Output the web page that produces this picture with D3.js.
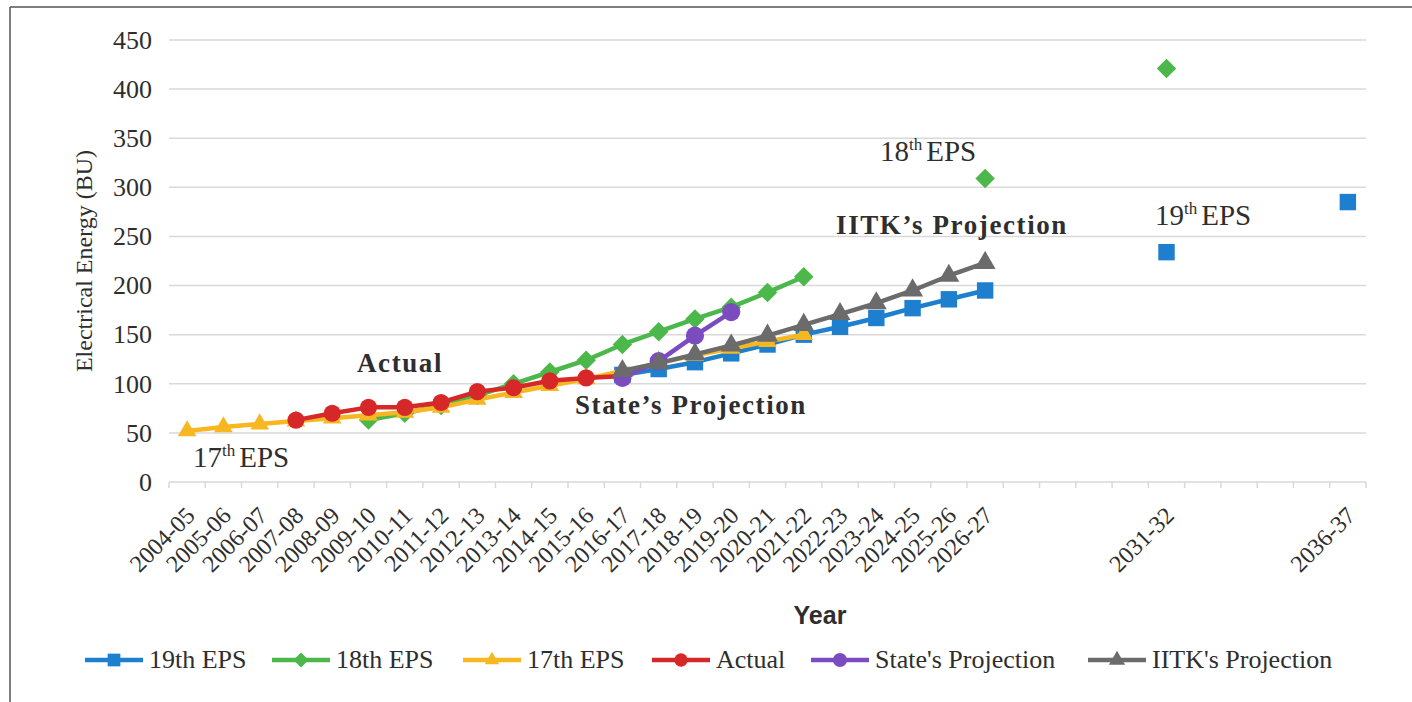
<!DOCTYPE html>
<html>
<head>
<meta charset="utf-8">
<script src="https://cdn.jsdelivr.net/npm/d3@7"></script>
<style>
  body { margin: 0; background: #fff; }
  svg { display: block; }
</style>
</head>
<body>
<svg id="chart"></svg>
<script>
// x categories (every year on the axis, only some get a label)
var years = ["2004-05","2005-06","2006-07","2007-08","2008-09","2009-10","2010-11","2011-12",
  "2012-13","2013-14","2014-15","2015-16","2016-17","2017-18","2018-19","2019-20","2020-21",
  "2021-22","2022-23","2023-24","2024-25","2025-26","2026-27","2027-28","2028-29","2029-30",
  "2030-31","2031-32","2032-33","2033-34","2034-35","2035-36","2036-37"]
var yearLabels = ["2004-05","2005-06","2006-07","2007-08","2008-09","2009-10","2010-11","2011-12",
  "2012-13","2013-14","2014-15","2015-16","2016-17","2017-18","2018-19","2019-20","2020-21",
  "2021-22","2022-23","2023-24","2024-25","2025-26","2026-27","2031-32","2036-37"]
var yTicks = [0, 50, 100, 150, 200, 250, 300, 350, 400, 450]

// series
var eps19Years = ["2016-17","2017-18","2018-19","2019-20","2020-21","2021-22","2022-23","2023-24","2024-25","2025-26","2026-27","2031-32","2036-37"]
var eps19Values = [109, 115, 122, 131, 140, 150, 158, 167, 177, 186, 195, 234, 285]

var eps18Years = ["2009-10","2010-11","2011-12","2012-13","2013-14","2014-15","2015-16","2016-17","2017-18","2018-19","2019-20","2020-21","2021-22","2026-27","2031-32"]
var eps18Values = [63, 70, 78, 88, 100, 112, 124, 140, 153, 166, 178, 193, 209, 309, 421]

var eps17Years = ["2004-05","2005-06","2006-07","2007-08","2008-09","2009-10","2010-11","2011-12","2012-13","2013-14","2014-15","2015-16","2016-17","2017-18","2018-19","2019-20","2020-21","2021-22"]
var eps17Values = [52, 56, 59, 62, 65, 68, 71, 76, 84, 91, 98, 105, 113, 121, 129, 136, 143, 150]

var actualYears = ["2007-08","2008-09","2009-10","2010-11","2011-12","2012-13","2013-14","2014-15","2015-16","2016-17"]
var actualValues = [63, 70, 76, 76, 81, 92, 96, 103, 106, 108]

var stateYears = ["2016-17","2017-18","2018-19","2019-20"]
var stateValues = [106, 123, 149, 173]

var iitkYears = ["2016-17","2017-18","2018-19","2019-20","2020-21","2021-22","2022-23","2023-24","2024-25","2025-26","2026-27"]
var iitkValues = [113, 121, 130, 139, 149, 160, 171, 182, 195, 210, 223]

var seriesNames = ["19th EPS", "18th EPS", "17th EPS", "Actual", "State's Projection", "IITK's Projection"]
var seriesColors = ["#1f7fcf", "#4cb84c", "#f7b720", "#d62828", "#7a4cbf", "#6b6b6b"]
var seriesSymbols = [d3.symbolSquare, d3.symbolSquare, d3.symbolTriangle, d3.symbolCircle, d3.symbolCircle, d3.symbolTriangle]
var seriesRotate = [0, 45, 0, 0, 0, 0]
var seriesSizes = [270, 190, 150, 230, 260, 190]

var allSeries = [
  [eps19Years, eps19Values],
  [eps18Years, eps18Values],
  [eps17Years, eps17Values],
  [actualYears, actualValues],
  [stateYears, stateValues],
  [iitkYears, iitkValues]
]

var dimensions = {
  width: 1412,
  height: 702,
  margin: { top: 40, bottom: 220, left: 169, right: 46 }
}

var svg = d3.select("#chart")
  .attr("width", dimensions.width)
  .attr("height", dimensions.height)

var serif = "'Liberation Serif', 'Times New Roman', serif"
var ink = "#2e2e2e"

// frame lines (top + left only)
svg.append("line").attr("x1", 10).attr("x2", dimensions.width).attr("y1", 7).attr("y2", 7)
  .attr("stroke", "#555").attr("stroke-width", 1.5)
svg.append("line").attr("x1", 10).attr("x2", 10).attr("y1", 7).attr("y2", dimensions.height)
  .attr("stroke", "#555").attr("stroke-width", 1.5)

var xScale = d3.scaleBand()
  .domain(years)
  .range([dimensions.margin.left, dimensions.width - dimensions.margin.right])
  .padding(0)

var yScale = d3.scaleLinear()
  .domain([0, 450])
  .range([dimensions.height - dimensions.margin.bottom, dimensions.margin.top])

var cx = d => xScale(d) + xScale.bandwidth() / 2

// gridlines
svg.append("g")
  .selectAll("line")
  .data(yTicks.slice(1))
  .enter().append("line")
  .attr("x1", dimensions.margin.left)
  .attr("x2", dimensions.width - dimensions.margin.right)
  .attr("y1", d => yScale(d))
  .attr("y2", d => yScale(d))
  .attr("stroke", "#d9d9d9")
  .attr("stroke-width", 1.5)

// y axis labels
var yAxis = svg.append("g")
  .attr("transform", `translate(${dimensions.margin.left},0)`)
  .call(d3.axisLeft(yScale).tickValues(yTicks).tickSize(0).tickPadding(17))
yAxis.select(".domain").remove()
yAxis.selectAll("text")
  .attr("font-family", serif)
  .attr("font-size", 26)
  .attr("fill", ink)

// x axis (ticks between categories)
var baseY = yScale(0)
svg.append("line")
  .attr("x1", dimensions.margin.left).attr("x2", dimensions.width - dimensions.margin.right)
  .attr("y1", baseY).attr("y2", baseY)
  .attr("stroke", "#d9d9d9").attr("stroke-width", 1.5)
svg.append("g")
  .selectAll("line")
  .data(years.concat(["end"]))
  .enter().append("line")
  .attr("x1", (d, i) => dimensions.margin.left + i * xScale.bandwidth())
  .attr("x2", (d, i) => dimensions.margin.left + i * xScale.bandwidth())
  .attr("y1", baseY).attr("y2", baseY + 6)
  .attr("stroke", "#d9d9d9").attr("stroke-width", 1.5)

svg.append("g")
  .selectAll("text")
  .data(yearLabels)
  .enter().append("text")
  .attr("transform", d => `translate(${cx(d) + 9},${baseY + 35}) rotate(-45)`)
  .attr("text-anchor", "end")
  .attr("font-family", serif)
  .attr("font-size", 24)
  .attr("fill", ink)
  .text(d => d)

// axis titles
svg.append("text")
  .attr("transform", `translate(92,${yScale(225)}) rotate(-90)`)
  .attr("text-anchor", "middle")
  .attr("font-family", serif)
  .attr("font-size", 24)
  .attr("fill", ink)
  .text("Electrical Energy (BU)")

svg.append("text")
  .attr("x", 820)
  .attr("y", 624)
  .attr("text-anchor", "middle")
  .attr("font-family", "'Liberation Sans', Arial, sans-serif")
  .attr("font-weight", "bold")
  .attr("font-size", 25)
  .attr("fill", ink)
  .text("Year")

// lines + markers
allSeries.forEach(function(s, k) {
  var pts = s[0].map((y, i) => ({ year: y, value: s[1][i], idx: years.indexOf(y) }))
  // split into runs of consecutive categories
  var runs = []
  pts.forEach(function(p, i) {
    if (i == 0 || p.idx - pts[i - 1].idx > 1) runs.push([])
    runs[runs.length - 1].push(p)
  })
  var line = d3.line().x(d => cx(d.year)).y(d => yScale(d.value))
  var g = svg.append("g")
  runs.filter(r => r.length > 1).forEach(function(r) {
    g.append("path")
      .attr("d", line(r))
      .attr("fill", "none")
      .attr("stroke", seriesColors[k])
      .attr("stroke-width", 4.5)
      .attr("stroke-linejoin", "round")
  })
  g.selectAll("path.m")
    .data(pts)
    .enter().append("path")
    .attr("class", "m")
    .attr("d", d3.symbol().type(seriesSymbols[k]).size(seriesSizes[k]))
    .attr("transform", d => `translate(${cx(d.year)},${yScale(d.value)}) rotate(${seriesRotate[k]})`)
    .attr("fill", seriesColors[k])
})

// annotations
var notes = [
  { text: "Actual", x: 400, y: 372 },
  { text: "State's Projection", x: 691, y: 414 },
  { text: "IITK's Projection", x: 952, y: 234 }
]
svg.append("g")
  .selectAll("text")
  .data(notes)
  .enter().append("text")
  .attr("x", d => d.x).attr("y", d => d.y)
  .attr("text-anchor", "middle")
  .attr("font-family", serif)
  .attr("font-weight", "bold")
  .attr("font-size", 27)
  .attr("letter-spacing", 1.6)
  .attr("fill", ink)
  .text(d => d.text.replace("'", "\u2019"))

var supNotes = [
  { num: "17", x: 193, y: 467 },
  { num: "18", x: 880, y: 161 },
  { num: "19", x: 1155, y: 225 }
]
supNotes.forEach(function(n) {
  var t = svg.append("text")
    .attr("x", n.x).attr("y", n.y)
    .attr("font-family", serif)
    .attr("font-size", 29)
    .attr("fill", ink)
  t.append("tspan").text(n.num)
  t.append("tspan").attr("font-size", 17).attr("dy", -11).text("th")
  t.append("tspan").attr("dy", 11).attr("dx", 4).text("EPS")
})

// legend
var legendX = [85, 272, 463, 652, 811, 1088]
var legend = svg.append("g")
  .selectAll("g")
  .data(seriesNames)
  .enter().append("g")
  .attr("transform", (d, i) => `translate(${legendX[i]},660)`)
legend.append("line")
  .attr("x1", 0).attr("x2", 58).attr("y1", 0).attr("y2", 0)
  .attr("stroke", (d, i) => seriesColors[i])
  .attr("stroke-width", 4.5)
legend.append("path")
  .attr("d", (d, i) => d3.symbol().type(seriesSymbols[i]).size(seriesSizes[i] * 0.6)())
  .attr("transform", (d, i) => `translate(29,0) rotate(${seriesRotate[i]})`)
  .attr("fill", (d, i) => seriesColors[i])
legend.append("text")
  .attr("x", 64).attr("y", 8)
  .attr("font-family", serif)
  .attr("font-size", 26)
  .attr("fill", ink)
  .text(d => d)
</script>
</body>
</html>
